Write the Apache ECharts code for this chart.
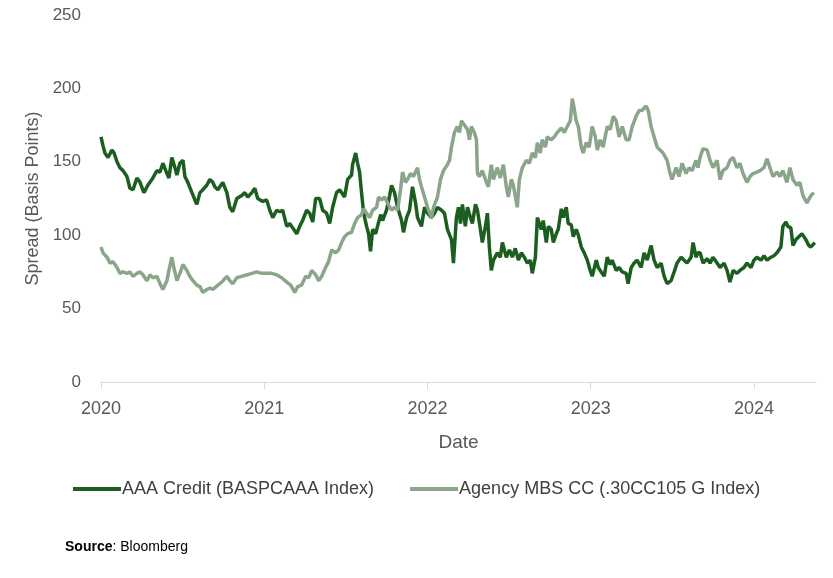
<!DOCTYPE html>
<html>
<head>
<meta charset="utf-8">
<script src="https://cdn.jsdelivr.net/npm/echarts@6/dist/echarts.min.js"></script>
<style>html,body{margin:0;padding:0;background:#fff}#c{width:833px;height:578px}</style>
</head>
<body>
<div id="c"></div>
<script>
// Dates as decimal years
const aaaYears = [2020.000,2020.012,2020.024,2020.043,2020.067,2020.080,2020.098,2020.116,2020.135,2020.159,2020.177,2020.196,2020.220,2020.239,2020.263,2020.287,2020.318,2020.343,2020.361,2020.379,2020.404,2020.416,2020.434,2020.453,2020.465,2020.483,2020.502,2020.514,2020.532,2020.557,2020.575,2020.587,2020.606,2020.624,2020.648,2020.667,2020.685,2020.697,2020.716,2020.746,2020.771,2020.789,2020.807,2020.832,2020.862,2020.881,2020.899,2020.924,2020.942,2020.960,2020.991,2021.015,2021.034,2021.052,2021.076,2021.095,2021.113,2021.138,2021.156,2021.174,2021.199,2021.217,2021.235,2021.260,2021.278,2021.297,2021.315,2021.339,2021.358,2021.382,2021.401,2021.419,2021.443,2021.462,2021.474,2021.492,2021.511,2021.535,2021.541,2021.560,2021.572,2021.584,2021.596,2021.609,2021.627,2021.639,2021.651,2021.664,2021.682,2021.694,2021.713,2021.725,2021.749,2021.768,2021.780,2021.798,2021.817,2021.841,2021.853,2021.872,2021.890,2021.908,2021.927,2021.939,2021.963,2021.982,2022.000,2022.024,2022.043,2022.061,2022.086,2022.104,2022.122,2022.147,2022.159,2022.177,2022.190,2022.202,2022.214,2022.232,2022.245,2022.263,2022.275,2022.294,2022.306,2022.324,2022.336,2022.355,2022.367,2022.379,2022.391,2022.404,2022.428,2022.446,2022.459,2022.483,2022.502,2022.520,2022.538,2022.557,2022.575,2022.593,2022.612,2022.630,2022.642,2022.661,2022.673,2022.685,2022.697,2022.709,2022.728,2022.740,2022.758,2022.771,2022.789,2022.801,2022.820,2022.832,2022.850,2022.862,2022.881,2022.893,2022.911,2022.924,2022.942,2022.960,2022.979,2022.997,2023.009,2023.034,2023.046,2023.064,2023.083,2023.101,2023.119,2023.131,2023.156,2023.174,2023.193,2023.217,2023.229,2023.248,2023.266,2023.284,2023.309,2023.327,2023.346,2023.358,2023.370,2023.388,2023.407,2023.431,2023.450,2023.468,2023.492,2023.511,2023.529,2023.554,2023.572,2023.590,2023.615,2023.627,2023.645,2023.657,2023.670,2023.688,2023.713,2023.731,2023.749,2023.774,2023.792,2023.817,2023.835,2023.853,2023.872,2023.896,2023.914,2023.939,2023.957,2023.982,2024.000,2024.018,2024.043,2024.061,2024.080,2024.104,2024.122,2024.141,2024.165,2024.177,2024.196,2024.208,2024.226,2024.239,2024.257,2024.275,2024.294,2024.318,2024.336,2024.349,2024.373];
const aaaValues = [167,161,156,153,158,156,150,146,144,140,132,131,139,136,129,134,139,144,143,149,142,139,153,146,141,149,151,140,136,129,124,121,129,131,134,138,136,133,131,136,129,119,116,125,127,129,126,129,132,125,123,124,117,112,117,116,117,106,108,105,101,106,110,117,115,109,125,125,117,115,108,119,129,131,131,126,138,141,148,156,149,143,129,115,106,101,89,104,101,106,114,110,117,127,134,129,119,110,102,112,117,133,122,112,106,119,115,112,115,119,117,115,104,97,81,112,119,108,121,106,119,112,108,121,117,104,95,106,115,92,76,83,88,85,95,85,90,85,91,83,88,85,81,83,74,85,112,108,104,110,95,106,104,95,101,104,118,112,119,108,107,99,104,100,92,88,83,76,72,83,78,75,72,85,80,83,76,78,75,74,67,78,81,83,78,88,83,88,93,83,78,81,72,67,69,75,81,85,83,81,85,95,85,88,88,81,84,81,85,81,78,81,76,68,76,74,76,78,81,78,83,85,83,86,83,85,86,88,92,106,109,106,105,93,97,99,101,97,93,92,95];

const mbsYears = [2020.000,2020.012,2020.037,2020.055,2020.073,2020.098,2020.116,2020.135,2020.159,2020.177,2020.196,2020.220,2020.239,2020.257,2020.281,2020.300,2020.318,2020.343,2020.361,2020.379,2020.404,2020.416,2020.434,2020.446,2020.465,2020.483,2020.502,2020.526,2020.544,2020.563,2020.587,2020.606,2020.624,2020.648,2020.667,2020.685,2020.716,2020.740,2020.771,2020.789,2020.807,2020.832,2020.862,2020.893,2020.924,2020.954,2020.985,2021.015,2021.046,2021.076,2021.107,2021.138,2021.162,2021.187,2021.205,2021.229,2021.254,2021.272,2021.291,2021.315,2021.333,2021.352,2021.376,2021.394,2021.413,2021.437,2021.456,2021.474,2021.492,2021.511,2021.535,2021.554,2021.572,2021.596,2021.609,2021.627,2021.645,2021.664,2021.688,2021.700,2021.719,2021.737,2021.755,2021.780,2021.798,2021.817,2021.835,2021.847,2021.865,2021.878,2021.896,2021.914,2021.939,2021.951,2021.963,2021.982,2022.000,2022.024,2022.037,2022.061,2022.080,2022.098,2022.122,2022.135,2022.147,2022.165,2022.183,2022.196,2022.208,2022.226,2022.245,2022.257,2022.269,2022.287,2022.300,2022.306,2022.318,2022.336,2022.361,2022.373,2022.391,2022.404,2022.428,2022.446,2022.465,2022.483,2022.495,2022.514,2022.526,2022.550,2022.563,2022.581,2022.606,2022.624,2022.642,2022.661,2022.673,2022.691,2022.703,2022.722,2022.734,2022.758,2022.777,2022.795,2022.820,2022.838,2022.856,2022.875,2022.887,2022.899,2022.911,2022.924,2022.942,2022.954,2022.972,2022.991,2023.009,2023.028,2023.040,2023.058,2023.076,2023.101,2023.119,2023.138,2023.156,2023.174,2023.193,2023.217,2023.235,2023.254,2023.278,2023.297,2023.315,2023.339,2023.352,2023.370,2023.388,2023.407,2023.425,2023.443,2023.468,2023.486,2023.498,2023.523,2023.541,2023.560,2023.584,2023.602,2023.621,2023.645,2023.657,2023.670,2023.688,2023.713,2023.731,2023.749,2023.774,2023.792,2023.810,2023.835,2023.853,2023.872,2023.896,2023.914,2023.933,2023.957,2023.976,2023.994,2024.018,2024.037,2024.061,2024.080,2024.098,2024.116,2024.141,2024.159,2024.177,2024.202,2024.220,2024.239,2024.263,2024.281,2024.300,2024.324,2024.336,2024.349,2024.367];
const mbsValues = [92,88,85,81,82,78,74,75,74,75,72,74,75,73,69,73,71,72,67,63,69,76,85,78,69,74,80,76,72,69,66,65,61,63,64,63,66,68,72,69,67,71,72,73,74,75,74,74,74,73,71,68,66,61,65,66,72,71,76,73,69,72,78,82,90,88,90,95,99,101,102,108,112,114,118,115,112,117,119,126,124,126,122,117,119,117,131,143,136,138,142,140,146,138,133,126,119,112,119,126,138,144,148,151,160,170,174,170,178,175,172,165,174,170,165,142,140,144,136,133,148,138,146,139,148,133,126,138,134,119,138,146,151,149,156,153,163,156,165,160,167,165,167,170,173,170,174,178,193,186,178,174,160,156,163,160,174,167,158,165,160,174,172,181,178,167,174,165,165,174,181,185,185,188,185,174,167,160,158,156,151,142,138,146,140,149,142,146,144,151,146,153,159,158,151,146,151,138,144,146,151,153,146,149,142,136,140,142,143,144,146,152,146,140,143,140,144,136,146,138,134,136,127,122,121,127,129];

const yearTicks = [2020, 2021, 2022, 2023, 2024];
const seriesNames = ['AAA Credit (BASPCAAA Index)', 'Agency MBS CC (.30CC105 G Index)'];

const zip = (xs, ys) => xs.map((x, i) => [x, ys[i]]);

const chart = echarts.init(document.getElementById('c'), null, {renderer: 'canvas'});
const narrow = "'Liberation Sans Narrow', 'Liberation Sans', sans-serif";
chart.setOption({
  animation: false,
  backgroundColor: '#ffffff',
  grid: {left: 101, right: 17, top: 15, bottom: 196, containLabel: false},
  legend: {
    bottom: 75, left: 68,
    itemWidth: 48, itemHeight: 4, itemGap: 36,
    icon: 'rect',
    textStyle: {fontFamily: narrow, fontSize: 18, color: '#404040', padding: [0,0,0,-4]},
    data: seriesNames
  },
  xAxis: {
    type: 'value', min: 2020, max: 2024.38,
    name: 'Date', nameLocation: 'middle', nameGap: 51,
    nameTextStyle: {fontFamily: narrow, fontSize: 19, color: '#595959'},
    axisLine: {show: true, lineStyle: {color: '#d9d9d9', width: 1}},
    axisTick: {show: true, customValues: yearTicks, length: 7, lineStyle: {color: '#d9d9d9'}},
    axisLabel: {customValues: yearTicks, margin: 18, fontFamily: narrow, fontSize: 18, color: '#595959', formatter: v => String(v)},
    splitLine: {show: false}
  },
  yAxis: {
    type: 'value', min: 0, max: 250, interval: 50,
    name: 'Spread (Basis Points)', nameLocation: 'middle', nameGap: 58,
    nameTextStyle: {fontFamily: "'Liberation Sans', Arial, sans-serif", fontSize: 18, color: '#595959'},
    axisLine: {show: false}, axisTick: {show: false},
    axisLabel: {margin: 20, fontFamily: "'Liberation Sans', Arial, sans-serif", fontSize: 17, color: '#595959'},
    splitLine: {show: false}
  },
  graphic: [{
    type: 'text', left: 65, top: 540,
    style: {
      rich: {
        b: {fontWeight: 'bold', fontFamily: "'Liberation Sans', Arial, sans-serif", fontSize: 14, fill: '#000'},
        n: {fontFamily: "'Liberation Sans', Arial, sans-serif", fontSize: 14, fill: '#000'}
      },
      text: '{b|Source}{n|: Bloomberg}'
    }
  }],
  series: [
    {name: seriesNames[0], type: 'line', data: zip(aaaYears, aaaValues), showSymbol: false, symbol: 'none',
     color: '#1b5e20', lineStyle: {width: 3.5, color: '#1b5e20'}},
    {name: seriesNames[1], type: 'line', data: zip(mbsYears, mbsValues), showSymbol: false, symbol: 'none',
     color: '#8aa58a', lineStyle: {width: 3.5, color: '#8aa58a'}}
  ]
});
</script>
</body>
</html>
